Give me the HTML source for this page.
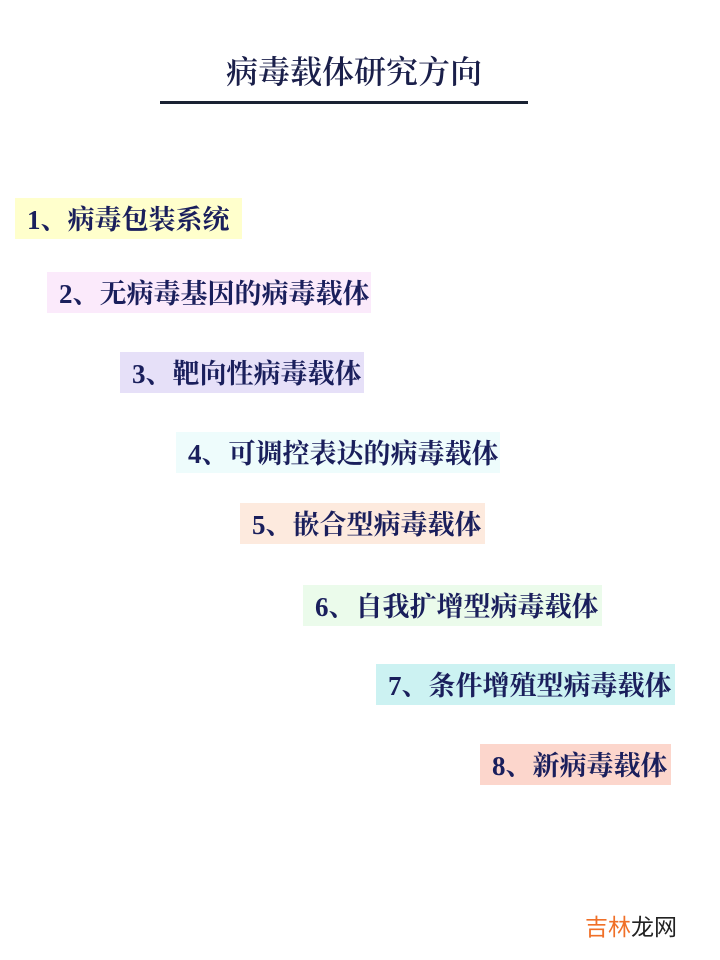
<!DOCTYPE html>
<html><head><meta charset="utf-8"><style>
body{margin:0;width:720px;height:960px;background:#fff;position:relative;overflow:hidden;font-family:"Liberation Serif","Noto Serif CJK SC",serif;}
.t{position:absolute;left:226px;top:52px;font-size:32px;font-weight:600;color:#1a1f4a;line-height:40px;white-space:nowrap}
.u{position:absolute;left:160px;top:101px;width:368px;height:3px;background:#1a2233}
.b{position:absolute;height:41px;line-height:45px;font-size:27px;font-weight:bold;color:#1a1f5c;padding-left:12px;box-sizing:border-box;white-space:nowrap;overflow:hidden}
.w{position:absolute;left:585px;top:908px;font-family:"Liberation Sans","Noto Sans CJK SC",sans-serif;font-size:23px;color:#222}
</style></head><body>
<div class="t">病毒载体研究方向</div>
<div class="u"></div>
<div class="b" style="left:15px;top:198px;width:227px;background:#ffffcc">1、病毒包装系统</div>
<div class="b" style="left:47px;top:272px;width:324px;background:#fbeafb">2、无病毒基因的病毒载体</div>
<div class="b" style="left:120px;top:352px;width:244px;background:#e6e0f8">3、靶向性病毒载体</div>
<div class="b" style="left:176px;top:432px;width:324px;background:#eefcfc">4、可调控表达的病毒载体</div>
<div class="b" style="left:240px;top:503px;width:245px;background:#fdeade">5、嵌合型病毒载体</div>
<div class="b" style="left:303px;top:585px;width:299px;background:#ebfbeb">6、自我扩增型病毒载体</div>
<div class="b" style="left:376px;top:664px;width:299px;background:#ccf2f2">7、条件增殖型病毒载体</div>
<div class="b" style="left:480px;top:744px;width:191px;background:#fcd6cc">8、新病毒载体</div>
<div class="w"><span style="color:#f07028">吉林</span>龙网</div>
</body></html>
